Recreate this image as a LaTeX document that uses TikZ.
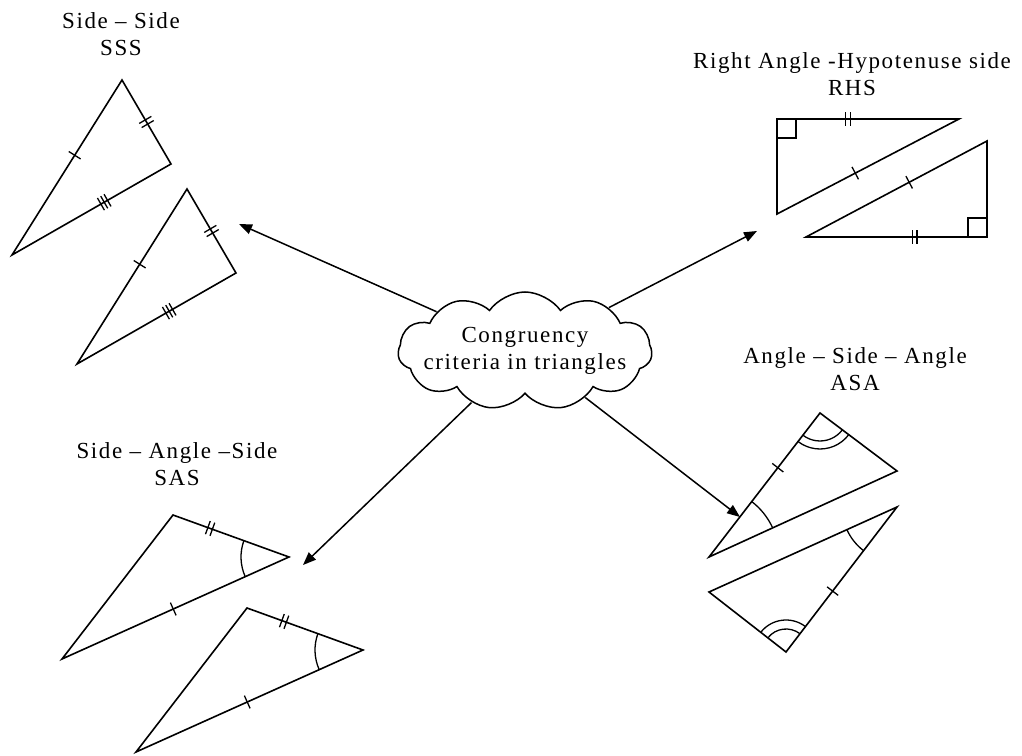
\documentclass[tikz,border=0pt]{standalone}
\usepackage{fontspec}
\setmainfont{Liberation Serif}[LetterSpace=7]
\usetikzlibrary{arrows.meta, shapes.symbols, decorations.markings, angles}

\begin{document}
\begin{tikzpicture}[x=1pt,y=1pt,font=\fontsize{23}{27}\selectfont,title/.style={align=center,inner sep=0pt},tri/.style={line width=1.6pt,line join=miter},tk/.style={postaction={decorate,decoration={markings,mark=at position #1 with {\draw[line width=1.3pt] (0pt,-7pt) -- (0pt,7pt);}}}},tkk/.style={postaction={decorate,decoration={markings,mark=at position #1 with {\draw[line width=1.3pt] (-2.4pt,-7pt) -- (-2.4pt,7pt) (2.4pt,-7pt) -- (2.4pt,7pt);}}}},tkkk/.style={postaction={decorate,decoration={markings,mark=at position #1 with {\draw[line width=1.3pt] (-3.8pt,-7pt) -- (-3.8pt,7pt) (0pt,-7pt) -- (0pt,7pt) (3.8pt,-7pt) -- (3.8pt,7pt);}}}},arc/.style={draw,line width=1.3pt,angle radius=#1},arrow/.style={line width=1.5pt,-{Triangle[length=13pt,width=10pt]}}]
\useasboundingbox (0,0) rectangle (1022,755);
\node[cloud,draw,cloud puffs=11,cloud puff arc=110,cloud ignores aspect,minimum width=254pt,minimum height=118pt,line width=1.5pt] (hub) at (525,404) {};
\node[title] (hubtext) at (hub) {Congruency\\criteria in triangles};
\node[title] (ssstitle) at (121,721) {Side – Side\\SSS};
\node[title] (rhstitle) at (852,681) {Right Angle -Hypotenuse side\\RHS};
\node[title] (asatitle) at (855,386) {Angle – Side – Angle\\ASA};
\node[title] (sastitle) at (177,291) {Side – Angle –Side\\SAS};
\coordinate (sss1a) at (122,675); \coordinate (sss1b) at (171,591); \coordinate (sss1c) at (12,500);
\coordinate (sss2a) at (187,566); \coordinate (sss2b) at (236,482); \coordinate (sss2c) at (77,391);
\foreach \i in {1,2}{\draw[tri] (sss\i a) -- (sss\i b) -- (sss\i c) -- cycle; \path[tk=.43] (sss\i a) -- (sss\i c); \path[tkk=.5] (sss\i a) -- (sss\i b); \path[tkkk=.42] (sss\i b) -- (sss\i c);}
\coordinate (rhs1a) at (777,636); \coordinate (rhs1b) at (959,636); \coordinate (rhs1c) at (777,541);
\coordinate (rhs2a) at (987,518); \coordinate (rhs2b) at (806,518); \coordinate (rhs2c) at (987,614);
\draw[tri] (rhs1a) -- (rhs1b) -- (rhs1c) -- cycle; \draw[line width=1.3pt] ([xshift=19pt]rhs1a) |- ([yshift=-19pt]rhs1a); \path[tkk=.39] (rhs1a) -- (rhs1b); \path[tk=.57] (rhs1b) -- (rhs1c);
\draw[tri] (rhs2a) -- (rhs2b) -- (rhs2c) -- cycle; \draw[line width=1.3pt] ([xshift=-19pt]rhs2a) |- ([yshift=19pt]rhs2a); \path[tkk=.6] (rhs2b) -- (rhs2a); \path[tk=.57] (rhs2b) -- (rhs2c);
\coordinate (asa1a) at (820,342); \coordinate (asa1b) at (897,284); \coordinate (asa1c) at (709,198);
\coordinate (asa2a) at (786,103); \coordinate (asa2b) at (709,163); \coordinate (asa2c) at (897,248);
\draw[tri] (asa1a) -- (asa1b) -- (asa1c) -- cycle; \path[tk=.38] (asa1a) -- (asa1c);
\pic[arc=28pt] {angle=asa1c--asa1a--asa1b}; \pic[arc=36pt] {angle=asa1c--asa1a--asa1b}; \pic[arc=70pt] {angle=asa1b--asa1c--asa1a};
\draw[tri] (asa2a) -- (asa2b) -- (asa2c) -- cycle; \path[tk=.58] (asa2c) -- (asa2a);
\pic[arc=23pt] {angle=asa2c--asa2a--asa2b}; \pic[arc=32pt] {angle=asa2c--asa2a--asa2b}; \pic[arc=55pt] {angle=asa2b--asa2c--asa2a};
\coordinate (sas1a) at (173,240); \coordinate (sas1b) at (289,198); \coordinate (sas1c) at (62,96);
\coordinate (sas2a) at (247,147); \coordinate (sas2b) at (363,105); \coordinate (sas2c) at (136,3);
\foreach \i in {1,2}{\draw[tri] (sas\i a) -- (sas\i b) -- (sas\i c) -- cycle; \path[tkk=.32] (sas\i a) -- (sas\i b); \path[tk=.51] (sas\i b) -- (sas\i c); \pic[arc=48pt] {angle=sas\i a--sas\i b--sas\i c};}
\coordinate (tosss) at (239,531); \coordinate (torhs) at (757,524); \coordinate (tosas) at (303,190); \coordinate (toasa) at (740,238);
\draw[arrow] (hub) -- (tosss); \draw[arrow] (hub) -- (torhs); \draw[arrow] (hub) -- (tosas); \draw[arrow] (hub) -- (toasa);
\end{tikzpicture}
\end{document}
